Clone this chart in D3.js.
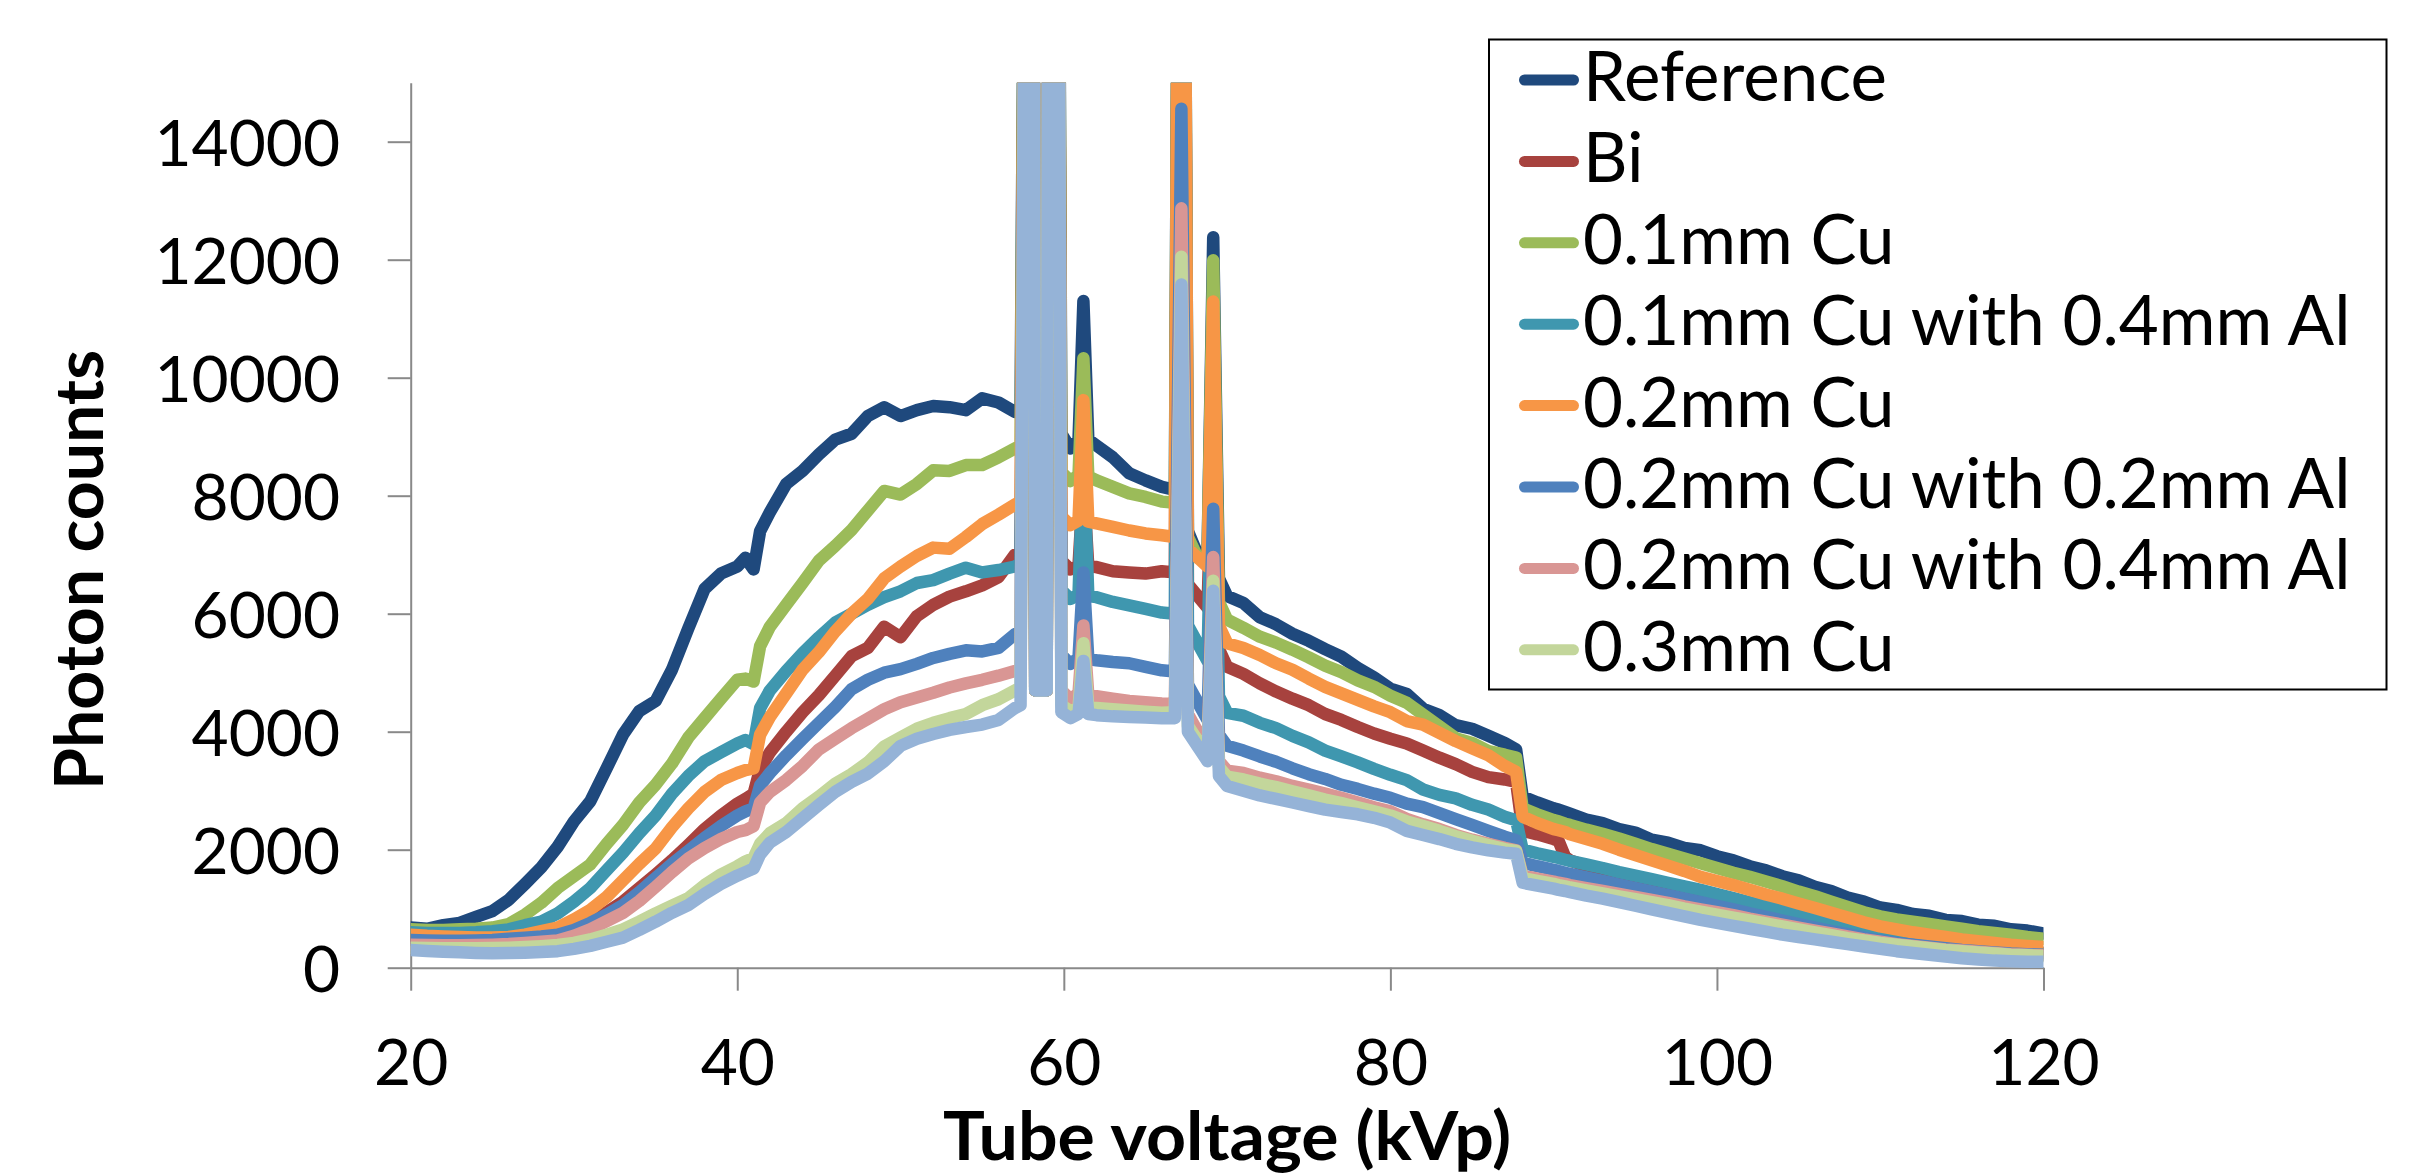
<!DOCTYPE html>
<html><head><meta charset="utf-8">
<script src="https://cdn.jsdelivr.net/npm/d3@7"></script>
<style>html,body{margin:0;padding:0;background:#fff;} svg{display:block;}</style>
</head><body>
<svg id="chart" width="2415" height="1173"></svg>
<script>
// Tube voltage grid (kVp) shared by all series
const kv = [
  20,21,22,23,24,25,26,27,28,29,
  30,31,32,33,34,35,36,37,38,39,
  40,40.5,41,41.4,42,43,44,45,46,47,
  48,49,50,51,52,53,54,55,56,57,
  57.35,57.75,58.1,58.25,58.95,59.1,59.6,59.85,60.4,60.9,61.2,61.5,
  62,63,64,65,66,
  66.8,67.2,67.6,68.2,68.8,69.15,69.5,
  70,71,72,73,74,75,76,77,78,79,80,81,82,83,84,85,86,87,87.7,
  88.1,89,90,90.3,90.7,
  91,92,93,94,95,96,97,98,99,100,101,102,103,104,105,106,107,108,109,110,
  111,112,113,114,115,116,117,118,119,120
];

const referenceCounts = [
  680,660,720,760,860,960,1150,1420,1700,2050,
  2480,2820,3380,3950,4350,4520,5050,5750,6420,6680,
  6800,6950,6750,7400,7720,8200,8420,8700,8950,9050,
  9350,9500,9350,9450,9520,9500,9450,9650,9580,9420,
  9500,25000,25000,4700,4700,25000,25000,9050,8800,8950,11300,8950,
  8850,8650,8380,8260,8150,
  8100,30000,7400,7000,7000,12380,6600,
  6300,6180,5940,5820,5660,5540,5400,5270,5080,4920,4730,4640,4390,4280,4110,4050,3930,3810,3700,
  2900,2800,2700,2680,2640,
  2610,2510,2450,2350,2290,2170,2120,2030,1990,1890,1820,1720,1650,1550,1480,1370,1300,1190,1120,1020,
  980,910,880,810,790,730,710,650,630,580
];
const biCounts = [
  480,460,450,440,440,440,450,470,500,520,
  620,760,940,1120,1350,1580,1820,2080,2350,2580,
  2780,2860,2950,3370,3650,4000,4330,4620,4950,5280,
  5420,5780,5600,5960,6150,6290,6380,6480,6620,7000,
  7050,25000,25000,4700,4700,25000,25000,6900,6750,6820,8200,6800,
  6790,6720,6700,6680,6720,
  6700,30000,6500,6300,6100,9300,5400,
  5100,4980,4820,4680,4560,4450,4300,4200,4080,3970,3880,3800,3680,3560,3450,3320,3230,3190,3150,
  2320,2260,2180,2150,1880,
  1820,1720,1650,1560,1480,1410,1340,1270,1220,1150,1080,1010,950,880,820,760,700,640,580,520,
  480,440,410,380,350,320,300,280,260,250
];
const cu01Counts = [
  650,640,640,650,660,680,740,900,1100,1350,
  1550,1750,2100,2420,2800,3100,3460,3900,4230,4560,
  4880,4900,4850,5450,5780,6150,6520,6900,7150,7420,
  7750,8080,8020,8200,8430,8420,8520,8520,8650,8800,
  8850,25000,25000,4700,4700,25000,25000,8400,8250,8350,10330,8330,
  8260,8150,8040,7980,7900,
  7880,30000,7300,6950,6950,11990,6200,
  5900,5760,5610,5510,5390,5260,5120,5010,4870,4760,4610,4490,4290,4090,3890,3810,3670,3610,3560,
  2700,2600,2500,2480,2440,
  2420,2340,2270,2190,2100,2010,1930,1850,1770,1690,1610,1540,1460,1380,1290,1210,1120,1030,940,870,
  820,780,740,700,660,620,590,560,520,490
];
const cu01al04Counts = [
  600,590,590,590,600,620,650,720,780,920,
  1120,1350,1650,1950,2280,2580,2950,3250,3500,3650,
  3800,3860,3790,4400,4700,5030,5330,5600,5850,6000,
  6150,6280,6380,6520,6570,6680,6780,6700,6740,6800,
  6850,25000,25000,4700,4700,25000,25000,6400,6250,6320,8700,6300,
  6280,6200,6140,6080,6020,
  6000,30000,5800,5500,5200,9800,4600,
  4320,4270,4150,4060,3930,3820,3680,3580,3480,3370,3270,3180,3020,2930,2870,2760,2680,2560,2500,
  2000,1940,1880,1860,1830,
  1810,1750,1690,1620,1560,1500,1440,1380,1320,1250,1180,1110,1040,970,900,830,770,700,630,560,
  510,470,430,400,370,340,310,290,270,250
];
const cu02Counts = [
  560,540,530,520,510,510,520,560,620,680,
  820,980,1200,1480,1760,2020,2380,2700,2980,3180,
  3300,3350,3380,3950,4250,4650,5050,5350,5700,6000,
  6250,6600,6800,6980,7120,7100,7300,7520,7680,7850,
  7900,25000,25000,4700,4700,25000,25000,7650,7500,7580,9620,7560,
  7530,7470,7410,7360,7330,
  7300,30000,7100,6950,6800,11290,5800,
  5500,5420,5300,5160,5050,4900,4760,4650,4540,4430,4330,4180,4120,3980,3840,3720,3600,3420,3320,
  2560,2450,2350,2330,2300,
  2260,2180,2100,2000,1910,1820,1730,1640,1540,1470,1400,1320,1240,1170,1090,1010,930,850,770,700,
  650,600,560,520,480,450,420,390,370,350
];
const cu02al02Counts = [
  470,460,455,455,460,470,490,510,530,560,
  640,760,900,1060,1280,1520,1760,1980,2200,2400,
  2580,2650,2700,3090,3300,3600,3880,4150,4420,4720,
  4880,5000,5060,5150,5250,5320,5380,5360,5420,5650,
  5700,25000,25000,4700,4700,25000,25000,5300,5150,5250,6700,5230,
  5210,5180,5160,5100,5040,
  5020,14560,4800,4500,4200,7780,3950,
  3760,3680,3580,3490,3380,3280,3200,3100,3030,2950,2880,2780,2720,2620,2520,2420,2320,2220,2160,
  1780,1720,1660,1640,1610,
  1590,1530,1470,1410,1350,1290,1230,1170,1110,1050,990,920,860,800,740,680,620,570,510,460,
  420,390,360,330,300,280,260,240,230,220
];
const cu02al04Counts = [
  390,385,380,380,385,390,400,420,440,460,
  540,650,790,930,1130,1370,1620,1850,2030,2180,
  2300,2330,2400,2800,2980,3180,3420,3700,3880,4060,
  4220,4380,4500,4580,4660,4750,4820,4880,4950,5030,
  5080,25000,25000,4700,4700,25000,25000,4700,4550,4650,5800,4620,
  4600,4560,4520,4500,4480,
  4470,12870,4300,4000,3700,6960,3500,
  3340,3300,3220,3160,3080,3020,2950,2880,2800,2720,2650,2520,2430,2350,2250,2170,2100,2030,1990,
  1560,1510,1460,1440,1420,
  1400,1350,1300,1250,1200,1150,1100,1040,990,940,890,830,780,730,680,630,580,530,480,440,
  400,370,340,310,290,270,250,230,220,210
];
const cu03Counts = [
  340,335,330,330,330,335,340,350,365,385,
  420,480,560,650,780,920,1050,1180,1400,1580,
  1720,1800,1860,2100,2280,2450,2700,2900,3120,3280,
  3480,3750,3900,4050,4150,4230,4300,4450,4550,4700,
  4750,25000,25000,4700,4700,25000,25000,4450,4350,4400,5500,4400,
  4400,4380,4360,4340,4320,
  4330,12050,4100,3850,3600,6560,3400,
  3240,3190,3120,3060,2990,2920,2850,2790,2720,2650,2580,2480,2400,2320,2230,2150,2080,2010,1980,
  1520,1470,1420,1400,1380,
  1360,1310,1260,1210,1160,1110,1060,1000,950,900,850,800,750,700,650,600,550,500,460,420,
  390,360,330,300,280,260,240,220,210,200
];
// ninth series drawn in the chart (not listed in the legend)
const unlistedCounts = [
  300,285,270,260,250,245,250,255,265,280,
  320,370,440,510,640,780,930,1060,1250,1420,
  1560,1620,1680,1920,2120,2300,2530,2760,2980,3150,
  3290,3500,3760,3880,3960,4030,4080,4120,4200,4400,
  4450,25000,25000,4700,4700,25000,25000,4330,4230,4300,5200,4300,
  4280,4260,4250,4240,4230,
  4230,11580,4000,3750,3500,6390,3250,
  3080,3000,2920,2860,2800,2740,2680,2640,2600,2540,2460,2320,2250,2180,2100,2040,1990,1950,1930,
  1440,1390,1340,1320,1300,
  1280,1220,1170,1110,1050,990,930,870,810,760,710,660,610,560,520,480,440,400,360,320,
  280,250,220,190,160,140,120,110,100,100
];

const seriesNames = ["Reference","Bi","0.1mm Cu","0.1mm Cu with 0.4mm Al","0.2mm Cu",
  "0.2mm Cu with 0.2mm Al","0.2mm Cu with 0.4mm Al","0.3mm Cu"];
const seriesColors = ["#1F497D","#A7423E","#9BBB59","#3F97AF","#F79646","#4F81BD","#D99694","#C3D69B","#95B3D7"];
const xTickValues = [20,40,60,80,100,120];
const yTickValues = [0,2000,4000,6000,8000,10000,12000,14000];

const allSeries = [referenceCounts,biCounts,cu01Counts,cu01al04Counts,cu02Counts,
  cu02al02Counts,cu02al04Counts,cu03Counts,unlistedCounts];

const svg = d3.select("#chart");
svg.append("rect").attr("width",2415).attr("height",1173).attr("fill","#fff");

const x = d3.scaleLinear().domain([20,120]).range([410.7,2043.5]);
const y = d3.scaleLinear().domain([0,15000]).range([967.7,82.7]);

svg.append("defs").append("clipPath").attr("id","plotClip")
  .append("rect").attr("x",x(20)).attr("y",y(15000))
  .attr("width",x(120)-x(20)).attr("height",y(0)-y(15000)+1);

// axes
const axisColor = "#898989";
const gy = svg.append("g").attr("transform",`translate(${x(20)},0)`)
  .call(d3.axisLeft(y).tickValues(yTickValues).tickSize(23).tickSizeOuter(0).tickPadding(47.7).tickFormat(d3.format("d")));
const gx = svg.append("g").attr("transform",`translate(0,${y(0)})`)
  .call(d3.axisBottom(x).tickValues(xTickValues).tickSize(23).tickSizeOuter(0).tickPadding(49).tickFormat(d3.format("d")));
[gx,gy].forEach(g=>{
  g.selectAll("path,line").attr("stroke",axisColor).attr("stroke-width",2);
  g.selectAll("text").attr("font-family","Lato, sans-serif").attr("font-size",64).attr("fill","#000");
});
gy.selectAll("text").attr("dy","0.37em");

// lines
const line = d3.line().x((d,i)=>x(kv[i])).y(d=>y(d));
const gLines = svg.append("g").attr("clip-path","url(#plotClip)");
allSeries.forEach((s,k)=>{
  gLines.append("path").datum(s).attr("d",line)
    .attr("fill","none").attr("stroke",seriesColors[k]).attr("stroke-width",12.5)
    .attr("stroke-linejoin","round").attr("stroke-linecap","round");
});

// axis titles
svg.append("text").attr("transform",`translate(103,570) rotate(-90)`)
  .attr("text-anchor","middle").attr("font-family","Lato, sans-serif").attr("font-weight","bold")
  .attr("font-size",66).attr("textLength",440).attr("lengthAdjust","spacingAndGlyphs")
  .text("Photon counts");
svg.append("text").attr("x",(x(20)+x(120))/2).attr("y",1160)
  .attr("text-anchor","middle").attr("font-family","Lato, sans-serif").attr("font-weight","bold")
  .attr("font-size",66).attr("textLength",568).attr("lengthAdjust","spacingAndGlyphs")
  .text("Tube voltage (kVp)");

// legend
const lg = svg.append("g");
lg.append("rect").attr("x",1489).attr("y",39.5).attr("width",897.5).attr("height",650)
  .attr("fill","#fff").attr("stroke","#000").attr("stroke-width",2);
seriesNames.forEach((name,i)=>{
  const base = 101 + i*81.4;
  lg.append("line").attr("x1",1524.5).attr("x2",1573.5).attr("y1",base-21).attr("y2",base-21)
    .attr("stroke",seriesColors[i]).attr("stroke-width",11).attr("stroke-linecap","round");
  lg.append("text").attr("x",1583).attr("y",base).attr("font-family","Lato, sans-serif")
    .attr("font-size",69).attr("fill","#000").text(name);
});

const bad = allSeries.map((s,k)=>[k,s.length]).filter(p=>p[1]!==kv.length);
if (bad.length) throw new Error("length mismatch kv="+kv.length+" "+JSON.stringify(bad));
</script>
</body></html>
